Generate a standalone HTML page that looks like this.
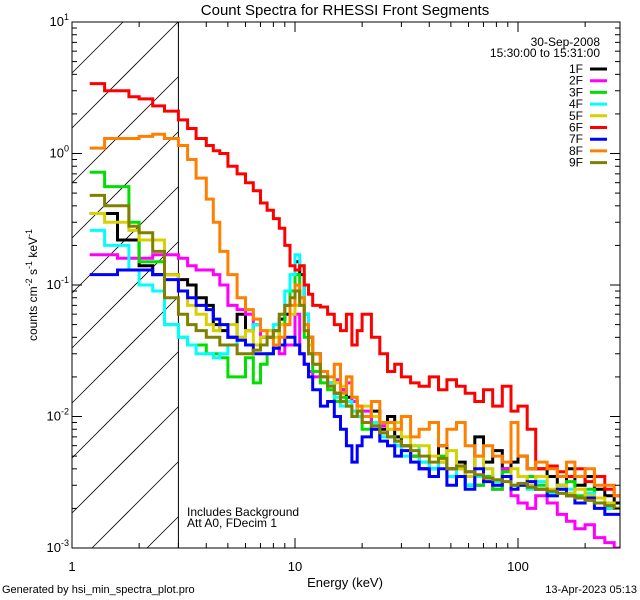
<!DOCTYPE html>
<html><head><meta charset="utf-8"><style>
html,body{margin:0;padding:0;background:#fff;overflow:hidden;width:640px;height:600px}
svg{display:block}
svg text{font-family:"Liberation Sans",sans-serif;fill:#000}
</style></head><body>
<svg id="c" width="640" height="600" xmlns="http://www.w3.org/2000/svg"></svg>
<script>
const edges=[1.2,1.4,1.6,1.8,2.0,2.3,2.6,3.0,3.3,3.6,4.0,4.3,4.6,5.0,5.5,6.0,6.5,7.0,7.5,8.0,8.5,9.0,9.5,10,10.5,11,11.5,12,13,14,15,16,17,18,19,20,22,24,26,28,30,33,36,40,44,48,53,58,64,70,77,85,93,100,110,120,135,150,165,180,200,220,245,270,290];
const seriesNames=["1F","2F","3F","4F","5F","6F","7F","8F","9F"];
const seriesColors=["#000000","#ff00ff","#00e000","#00ffff","#d8d000","#ff0000","#0000ff","#ff8000","#808000"];
const s1F=[0.35,0.35,0.22,0.22,0.14,0.12,0.12, 0.11,0.1,0.08,0.07,0.05,0.045,0.04,0.06,0.045,0.05,0.04,0.04,0.045,0.055,0.06,0.09, 0.15,0.12,0.06,0.04,0.03,0.02,0.018,0.015,0.016,0.014,0.013,0.01,0.009,0.011,0.008,0.01,0.007,0.006,0.005,0.004,0.0035,0.006,0.004,0.0045,0.003,0.007,0.0045,0.0055,0.004,0.0045,0.005,0.004,0.004,0.0035,0.003,0.004,0.003,0.0035,0.0028,0.0025,0.0022];
const s2F=[0.17,0.17,0.16,0.16,0.16,0.17,0.17, 0.16,0.14,0.13,0.13,0.12,0.1,0.07,0.065,0.06,0.05,0.04,0.04,0.045,0.03,0.035,0.035, 0.06,0.03,0.025,0.022,0.02,0.02,0.018,0.019,0.016,0.018,0.013,0.01,0.011,0.008,0.0085,0.007,0.006,0.006,0.005,0.004,0.004,0.0045,0.004,0.0035,0.0038,0.003,0.0035,0.0028,0.004,0.0025,0.0022,0.002,0.0025,0.0022,0.0018,0.0016,0.0014,0.0015,0.0012,0.0011,0.001];
const s3F=[0.72,0.56,0.56,0.3,0.15,0.15,0.05, 0.04,0.035,0.035,0.03,0.03,0.028,0.02,0.02,0.028,0.018,0.025,0.03,0.035,0.05,0.07,0.09, 0.12,0.08,0.04,0.03,0.022,0.018,0.016,0.013,0.014,0.012,0.01,0.011,0.008,0.009,0.0075,0.007,0.0065,0.006,0.005,0.0045,0.004,0.005,0.0035,0.004,0.003,0.003,0.0035,0.0028,0.0038,0.003,0.003,0.0035,0.003,0.0025,0.0028,0.0032,0.0025,0.0028,0.0022,0.002,0.002];
const s4F=[0.26,0.2,0.2,0.13,0.1,0.09,0.05, 0.04,0.035,0.03,0.03,0.028,0.03,0.035,0.04,0.045,0.05,0.045,0.045,0.05,0.06,0.09,0.12, 0.17,0.14,0.06,0.035,0.025,0.02,0.018,0.014,0.012,0.013,0.011,0.01,0.009,0.009,0.007,0.007,0.006,0.005,0.006,0.0045,0.004,0.0045,0.0035,0.004,0.003,0.0035,0.004,0.0032,0.0035,0.003,0.003,0.0028,0.0032,0.0026,0.003,0.0028,0.0024,0.0026,0.0022,0.002,0.002];
const s5F=[0.35,0.3,0.3,0.26,0.22,0.22,0.12, 0.09,0.07,0.06,0.05,0.045,0.05,0.05,0.04,0.045,0.035,0.04,0.045,0.04,0.05,0.05,0.06, 0.07,0.08,0.05,0.035,0.025,0.022,0.02,0.018,0.017,0.02,0.014,0.011,0.012,0.01,0.009,0.008,0.009,0.007,0.006,0.006,0.005,0.0045,0.0055,0.004,0.0035,0.005,0.004,0.003,0.0035,0.004,0.0035,0.003,0.0035,0.0028,0.003,0.0026,0.0028,0.0025,0.0024,0.0022,0.002];
const s6F=[3.4,3.0,3.0,2.7,2.6,2.3,2.1, 1.8,1.55,1.3,1.15,1.05,1.0,0.8,0.7,0.6,0.52,0.42,0.37,0.32,0.27,0.2,0.14, 0.13,0.14,0.1,0.085,0.07,0.068,0.06,0.05,0.045,0.06,0.035,0.045,0.06,0.04,0.03,0.022,0.025,0.02,0.018,0.017,0.02,0.016,0.019,0.017,0.015,0.013,0.016,0.012,0.017,0.011,0.012,0.008,0.004,0.0042,0.0038,0.0035,0.004,0.0032,0.0035,0.0028,0.0025];
const s7F=[0.12,0.12,0.13,0.13,0.13,0.12,0.11, 0.09,0.08,0.07,0.065,0.055,0.05,0.04,0.038,0.035,0.03,0.03,0.03,0.033,0.035,0.04,0.04, 0.035,0.03,0.025,0.02,0.016,0.012,0.013,0.01,0.008,0.006,0.0045,0.006,0.007,0.008,0.0065,0.006,0.005,0.0055,0.0045,0.004,0.0035,0.004,0.003,0.0035,0.0028,0.004,0.0032,0.003,0.0035,0.0028,0.003,0.0032,0.0028,0.0025,0.0028,0.0025,0.0022,0.0024,0.002,0.0018,0.0018];
const s8F=[1.1,1.3,1.3,1.3,1.35,1.4,1.3, 1.15,0.9,0.65,0.45,0.3,0.18,0.12,0.08,0.065,0.055,0.045,0.04,0.035,0.04,0.05,0.07, 0.1,0.08,0.05,0.04,0.03,0.022,0.02,0.025,0.015,0.02,0.014,0.012,0.01,0.013,0.009,0.009,0.008,0.01,0.007,0.008,0.009,0.006,0.008,0.009,0.006,0.005,0.006,0.005,0.0045,0.009,0.005,0.004,0.0045,0.004,0.0035,0.0045,0.0035,0.004,0.003,0.003,0.0025];
const s9F=[0.48,0.4,0.4,0.28,0.25,0.18,0.08, 0.06,0.05,0.045,0.04,0.04,0.035,0.035,0.03,0.03,0.032,0.035,0.04,0.045,0.06,0.07,0.08, 0.09,0.07,0.045,0.03,0.025,0.02,0.017,0.015,0.013,0.012,0.01,0.011,0.009,0.0085,0.0075,0.007,0.0065,0.006,0.0055,0.005,0.0045,0.0048,0.004,0.0042,0.0038,0.0036,0.0034,0.0033,0.0032,0.003,0.0031,0.0029,0.0028,0.0027,0.0026,0.0025,0.0024,0.0023,0.0022,0.0021,0.002];
const seriesValues=[s1F,s2F,s3F,s4F,s5F,s6F,s7F,s8F,s9F];
const xTickLabels=["1","10","100"];
const yTickExps=["1","0","-1","-2","-3"];

const NS="http://www.w3.org/2000/svg";
const svg=document.getElementById("c");
const L=72,R=620,T=22,B=548,DX=223,XMIN=1,YMAX=1,DY=131.5;
function xs(e){return L+Math.log10(e/XMIN)*DX;}
function ys(v){return T+(YMAX-Math.log10(v))*DY;}
function mk(tag,attrs,parent){const el=document.createElementNS(NS,tag);for(const k in attrs)el.setAttribute(k,attrs[k]);(parent||svg).appendChild(el);return el;}

const defs=mk("defs",{});
const cp=mk("clipPath",{id:"plotclip"},defs);mk("rect",{x:L,y:T,width:R-L,height:B-T},cp);

// hatch: compute clipped segments manually (line y = c - x)
const X3=xs(3);
const hg=mk("g",{});


for(let k=-2;k<14;k++){
  const c=B-k*55+20+L;
  let xa=Math.max(L,c-B), xb=Math.min(X3,c-T);
  if(xb<=xa)continue;
  mk("line",{x1:xa,y1:c-xa,x2:xb,y2:c-xb,stroke:"#000","stroke-width":0.8},hg);
}
const vl=mk("line",{x1:X3,y1:T,x2:X3,y2:B,stroke:"#000","stroke-width":1});



const sg=mk("g",{"clip-path":"url(#plotclip)"});
seriesValues.forEach((vals,i)=>{
  let d="";
  for(let j=0;j<vals.length;j++){
    const x0=xs(edges[j]),x1=Math.min(xs(edges[j+1]),R),y=ys(vals[j]);
    d+=(j===0?"M":"L")+x0.toFixed(1)+","+y.toFixed(1)+"L"+x1.toFixed(1)+","+y.toFixed(1);
  }
  const p=mk("path",{d:d,fill:"none",stroke:seriesColors[i],"stroke-width":3,"stroke-linejoin":"miter"},sg);
  
  
});

const box=mk("rect",{x:L,y:T,width:R-L,height:B-T,fill:"none",stroke:"#000","stroke-width":1});



const tg=mk("g",{stroke:"#000","stroke-width":1});
for(let dec=1;dec<=100;dec*=10){for(let m=1;m<=9;m++){const e=dec*m;if(e>290)break;const x=xs(e);const len=m===1?10:5;
 mk("line",{x1:x,y1:B,x2:x,y2:B-len},tg);mk("line",{x1:x,y1:T,x2:x,y2:T+len},tg);}}
xTickLabels.forEach((t,i)=>{const tx=mk("text",{x:xs(Math.pow(10,i)),y:571,"font-size":13,"text-anchor":"middle"});tx.textContent=t;
 
 });
for(let ex=-3;ex<=0;ex++){for(let m=1;m<=9;m++){const v=m*Math.pow(10,ex);const y=ys(v);const len=m===1?10:5;
 mk("line",{x1:L,y1:y,x2:L+len,y2:y},tg);mk("line",{x1:R,y1:y,x2:R-len,y2:y},tg);}}
mk("line",{x1:L,y1:ys(10),x2:L+10,y2:ys(10)},tg);mk("line",{x1:R,y1:ys(10),x2:R-10,y2:ys(10)},tg);
yTickExps.forEach((e,i)=>{const y=ys(Math.pow(10,1-i));
 const tx=mk("text",{x:L-3,y:y+4,"font-size":13,"text-anchor":"end"});
 
 
 const a=mk("tspan",{},tx);a.textContent="10";const b=mk("tspan",{dy:-6,"font-size":9},tx);b.textContent=e;});

function txt(s,x,y,size,anchor,name){const t=mk("text",{x:x,y:y,"font-size":size,"text-anchor":anchor||"start"});t.textContent=s;
 
 return t;}
txt("Count Spectra for RHESSI Front Segments",345,15,15,"middle","chart-title");
txt("Energy (keV)",345,587,13,"middle","x-axis-title");
txt("Generated by hsi_min_spectra_plot.pro",2,593,11,"start","footer-generator");
txt("13-Apr-2023 05:13",637,593,11,"end","footer-date");
txt("Includes Background",187,516,12,"start","note-background");
txt("Att A0, FDecim 1",187,527,12,"start","note-attenuator");
txt("30-Sep-2008",600,46,12,"end","legend-date");
txt("15:30:00 to 15:31:00",600,57,12,"end","legend-time");
const yt=mk("text",{transform:"translate(37,285) rotate(-90)","font-size":12,"text-anchor":"middle"});


yt.innerHTML='counts cm<tspan dy="-5" font-size="9">-2</tspan><tspan dy="5"> s</tspan><tspan dy="-5" font-size="9">-1</tspan><tspan dy="5"> keV</tspan><tspan dy="-5" font-size="9">-1</tspan>';

seriesNames.forEach((n,i)=>{const y=69+i*11.7;
 const g=mk("g",{});
 
 
 const t=mk("text",{x:583,y:y+4,"font-size":12,"text-anchor":"end"},g);t.textContent=n;
 mk("line",{x1:590,y1:y,x2:607,y2:y,stroke:seriesColors[i],"stroke-width":3},g);});
</script>
</body></html>
